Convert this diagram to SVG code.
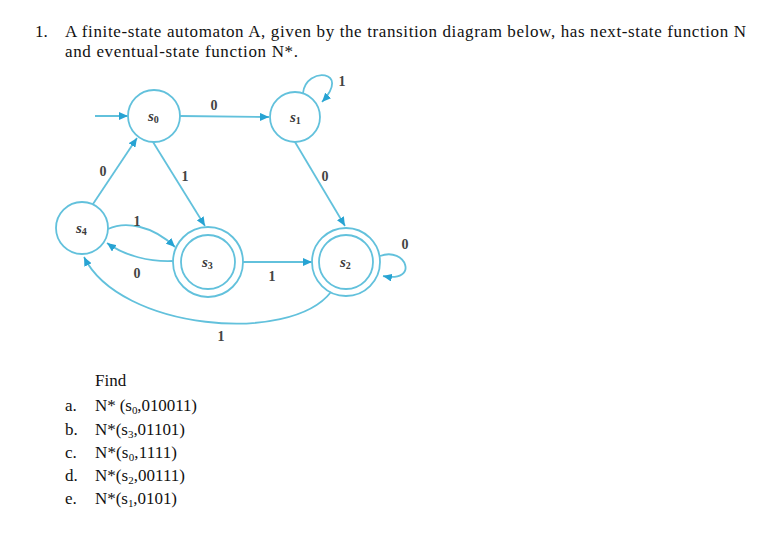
<svg xmlns="http://www.w3.org/2000/svg" width="764" height="536" viewBox="0 0 764 536">
<defs>
<marker id="arr" markerUnits="userSpaceOnUse" markerWidth="10" markerHeight="8" refX="9" refY="4" orient="auto">
<path d="M0,0 L9,4 L0,8 Z" fill="#27a3d3"/>
</marker>
<style>
.t{font-family:"Liberation Serif","Times New Roman",serif;font-size:17px;fill:#111}
.node circle{fill:none;stroke:#62c1dc;stroke-width:1.8}
.nl{font-family:"Liberation Serif",serif;font-style:italic;font-weight:bold;font-size:15px;fill:#3a3a3a}
.sub{font-size:10px;font-style:normal}
.edge{fill:none;stroke:#62c1dc;stroke-width:1.8;marker-end:url(#arr)}
.el{font-family:"Liberation Serif",serif;font-weight:bold;font-size:14px;fill:#444;text-anchor:middle}
</style>
</defs>
<rect width="764" height="536" fill="#fff"/>

<text class="t" x="35" y="37">1.</text>
<text class="t" x="65" y="37" textLength="681" lengthAdjust="spacing">A finite-state automaton A, given by the transition diagram below, has next-state function N</text>
<text class="t" x="65" y="57" textLength="233" lengthAdjust="spacing">and eventual-state function N*.</text>

<g id="connectors">
<path class="edge" d="M95,116 L128,116"/>
<path class="edge" d="M180,116 L269,117"/>
<path class="edge" d="M93,204 L137,138"/>
<path class="edge" d="M153,142 L205,226"/>
<path class="edge" d="M295,142 L345,226"/>
<path class="edge" d="M303,93 C306,66 352,70 322,102"/>
<path class="edge" d="M108,229 C125,221 152,225 175,247"/>
<path class="edge" d="M173,261 C150,262 125,256 107,243"/>
<path class="edge" d="M243,262 L312,262"/>
<path class="edge" d="M380,256 C406,246 420,283 383,276"/>
<path class="edge" d="M331,292 C290,345 120,330 84,257"/>
</g>

<g id="edge-labels">
<text class="el" x="214" y="110">0</text>
<text class="el" x="103" y="176">0</text>
<text class="el" x="185" y="181">1</text>
<text class="el" x="325" y="181">0</text>
<text class="el" x="342" y="86">1</text>
<text class="el" x="137" y="226">1</text>
<text class="el" x="137" y="278">0</text>
<text class="el" x="272" y="281">1</text>
<text class="el" x="405" y="249">0</text>
<text class="el" x="221" y="341">1</text>
</g>

<g id="s0" class="node">
<circle cx="154" cy="116" r="26"/>
<text class="nl" x="148" y="121">s<tspan class="sub" dy="2">0</tspan></text>
</g>
<g id="s1" class="node">
<circle cx="295" cy="117" r="25"/>
<text class="nl" x="290" y="122">s<tspan class="sub" dy="2">1</tspan></text>
</g>
<g id="s4" class="node">
<circle cx="82" cy="228" r="26"/>
<text class="nl" x="76" y="233">s<tspan class="sub" dy="2">4</tspan></text>
</g>
<g id="s3" class="node">
<circle cx="208" cy="262" r="35"/>
<circle cx="208" cy="262" r="27"/>
<text class="nl" x="202" y="267">s<tspan class="sub" dy="2">3</tspan></text>
</g>
<g id="s2" class="node">
<circle cx="346" cy="262" r="34"/>
<circle cx="346" cy="262" r="27"/>
<text class="nl" x="340" y="267">s<tspan class="sub" dy="2">2</tspan></text>
</g>

<g id="questions">
<text class="t" x="95" y="386">Find</text>
<text class="t" x="65" y="411">a.</text>
<text class="t" x="95" y="411" textLength="102">N* (s<tspan font-size="11" dy="3">0</tspan><tspan dy="-3">,010011)</tspan></text>
<text class="t" x="65" y="435">b.</text>
<text class="t" x="95" y="435" textLength="90">N*(s<tspan font-size="11" dy="3">3</tspan><tspan dy="-3">,01101)</tspan></text>
<text class="t" x="65" y="458">c.</text>
<text class="t" x="95" y="458" textLength="82">N*(s<tspan font-size="11" dy="3">0</tspan><tspan dy="-3">,1111)</tspan></text>
<text class="t" x="65" y="481">d.</text>
<text class="t" x="95" y="481" textLength="90">N*(s<tspan font-size="11" dy="3">2</tspan><tspan dy="-3">,00111)</tspan></text>
<text class="t" x="65" y="504">e.</text>
<text class="t" x="95" y="504" textLength="82">N*(s<tspan font-size="11" dy="3">1</tspan><tspan dy="-3">,0101)</tspan></text>
</g>
</svg>
